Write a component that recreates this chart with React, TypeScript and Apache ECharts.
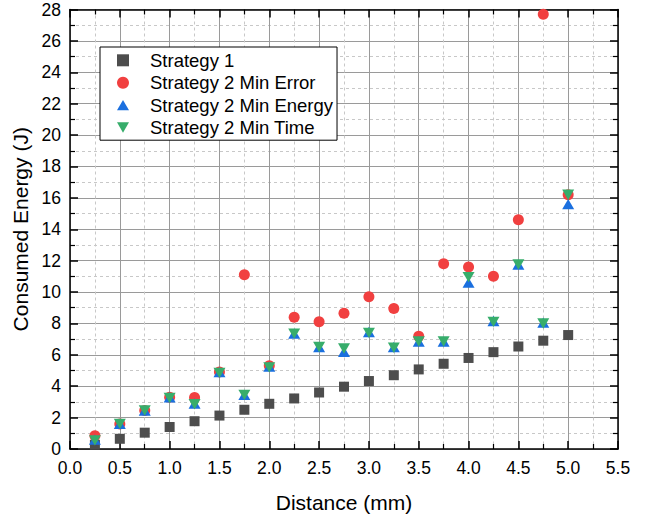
import React, { useEffect, useRef } from "react";
import * as echarts from "echarts";

const distances = [0.25, 0.5, 0.75, 1.0, 1.25, 1.5, 1.75, 2.0, 2.25, 2.5, 2.75, 3.0, 3.25, 3.5, 3.75, 4.0, 4.25, 4.5, 4.75, 5.0];
const strategy1 = [0.27, 0.65, 1.04, 1.4, 1.77, 2.13, 2.5, 2.88, 3.22, 3.6, 3.97, 4.33, 4.7, 5.07, 5.43, 5.8, 6.17, 6.53, 6.9, 7.26];
const minError = [0.85, 1.6, 2.45, 3.3, 3.28, 4.9, 11.1, 5.3, 8.4, 8.1, 8.65, 9.7, 8.95, 7.18, 11.8, 11.6, 11.0, 14.6, 27.7, 16.2];
const minEnergy = [0.6, 1.6, 2.45, 3.3, 2.9, 4.9, 3.45, 5.25, 7.35, 6.5, 6.2, 7.45, 6.5, 6.85, 6.85, 10.6, 8.15, 11.75, 8.05, 15.6];
const minTime = [0.55, 1.6, 2.45, 3.25, 2.85, 4.85, 3.45, 5.2, 7.35, 6.5, 6.4, 7.4, 6.45, 6.85, 6.85, 10.95, 8.1, 11.75, 8.0, 16.2];
const seriesNames = ["Strategy 1", "Strategy 2 Min Error", "Strategy 2 Min Energy", "Strategy 2 Min Time"];

const FONT = 'Arial, "Liberation Sans", sans-serif';
const DOWN_TRI = "path://M0,0L12,0L6,10.4Z";
const UP_TRI = "path://M6,0L12,10.4L0,10.4Z";

const pairs = (ys: number[]) => distances.map((x, i) => [x, ys[i]]);

export default function App() {
  const ref = useRef<HTMLDivElement>(null);
  useEffect(() => {
    if (!ref.current) return;
    const chart = echarts.init(ref.current, undefined, { renderer: "svg" });
    const axisLine = { show: true, onZero: false, lineStyle: { color: "#000", width: 1.5 } };
    const tick = { show: true, inside: true, length: 8, lineStyle: { color: "#000", width: 1.5 } };
    const minorTick = { show: true, splitNumber: 2, length: 5, lineStyle: { color: "#000", width: 1.2 } };
    const xBase = { type: "value", min: 0, max: 5.5, interval: 0.5 };
    const yBase = { type: "value", min: 0, max: 28, interval: 2 };
    chart.setOption({
      animation: false,
      backgroundColor: "#fff",
      grid: { left: 70, right: 31, top: 9.5, bottom: 71, containLabel: false },
      legend: {
        orient: "vertical",
        left: 100,
        top: 47,
        data: [
          { name: seriesNames[0], icon: "path://M0,0L10,0L10,10L0,10Z" },
          { name: seriesNames[1], icon: "circle" },
          { name: seriesNames[2], icon: UP_TRI },
          { name: seriesNames[3], icon: DOWN_TRI },
        ],
        backgroundColor: "#fff",
        borderColor: "#000",
        borderWidth: 1,
        borderRadius: 0,
        padding: [3.3, 4, 2.7, 17],
        itemWidth: 12,
        itemHeight: 12,
        itemGap: 2.4,
        itemStyle: { opacity: 1 },
        textStyle: { fontFamily: FONT, fontSize: 18.5, color: "#000", lineHeight: 20, padding: [0, 0, 0, 16] },
      },
      xAxis: [
        {
          ...xBase,
          position: "bottom",
          name: "Distance (mm)",
          nameLocation: "middle",
          nameGap: 43,
          nameTextStyle: { fontFamily: FONT, fontSize: 21, color: "#000" },
          axisLine,
          axisTick: tick,
          minorTick: { ...minorTick },
          axisLabel: { fontFamily: FONT, fontSize: 17.5, color: "#000", margin: 10, formatter: (v: number) => v.toFixed(1) },
          splitLine: { show: true, lineStyle: { color: "#9a9a9a", width: 1 } },
          minorSplitLine: { show: true, lineStyle: { color: "#c8c8c8", width: 1, type: [3, 3] } },
        },
        {
          ...xBase,
          position: "top",
          axisLine,
          axisTick: tick,
          minorTick: { ...minorTick },
          axisLabel: { show: false },
          splitLine: { show: false },
        },
      ],
      yAxis: [
        {
          ...yBase,
          position: "left",
          name: "Consumed Energy (J)",
          nameLocation: "middle",
          nameGap: 35,
          nameTextStyle: { fontFamily: FONT, fontSize: 21, color: "#000" },
          axisLine,
          axisTick: tick,
          minorTick: { ...minorTick },
          axisLabel: { fontFamily: FONT, fontSize: 17.5, color: "#000", margin: 9 },
          splitLine: { show: true, lineStyle: { color: "#9a9a9a", width: 1 } },
          minorSplitLine: { show: true, lineStyle: { color: "#c8c8c8", width: 1, type: [3, 3] } },
        },
        {
          ...yBase,
          position: "right",
          axisLine,
          axisTick: tick,
          minorTick: { ...minorTick },
          axisLabel: { show: false },
          splitLine: { show: false },
        },
      ],
      series: [
        { name: seriesNames[0], type: "scatter", symbol: "rect", symbolSize: 10, itemStyle: { color: "#4d4d4d", opacity: 1 }, data: pairs(strategy1), clip: false },
        { name: seriesNames[1], type: "scatter", symbol: "circle", symbolSize: 11, itemStyle: { color: "#F14040", opacity: 1 }, data: pairs(minError), clip: false },
        { name: seriesNames[2], type: "scatter", symbol: UP_TRI, symbolSize: [12, 10.4], itemStyle: { color: "#1A6FDF", opacity: 1 }, data: pairs(minEnergy), clip: false },
        { name: seriesNames[3], type: "scatter", symbol: DOWN_TRI, symbolSize: [12, 10.4], itemStyle: { color: "#37AD6B", opacity: 1 }, data: pairs(minTime), clip: false },
      ],
    });
    return () => chart.dispose();
  }, []);
  return <div ref={ref} style={{ position: "absolute", left: 0, top: 0, width: 649, height: 520 }} />;
}
